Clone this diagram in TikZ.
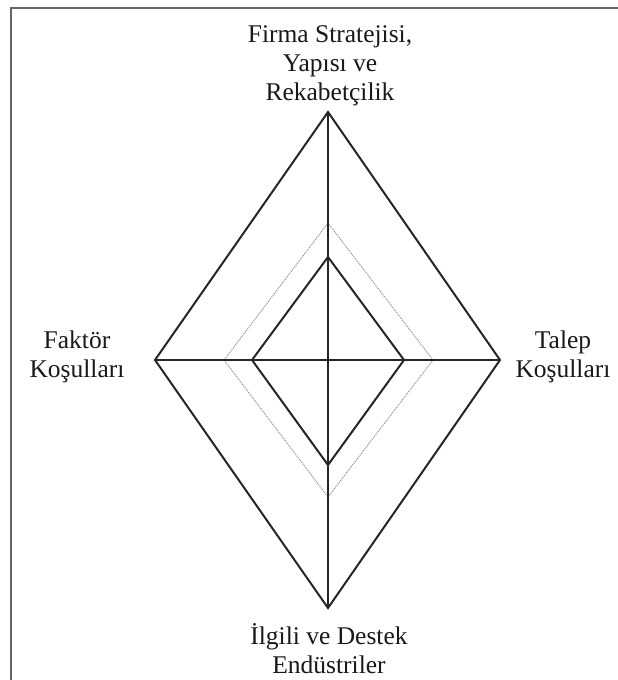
\documentclass[tikz,border=0pt]{standalone}
\usepackage{fontspec}
\setmainfont{Liberation Serif}
\begin{document}
\begin{tikzpicture}[x=1pt,y=-1pt,
  lbl/.style={align=center,font=\fontsize{25.5}{29}\selectfont,inner sep=0pt,text=black!90},
  mainline/.style={line width=2pt,draw=black!85},
  dotline/.style={line width=1pt,draw=black!45,densely dotted},
  framel/.style={line width=2.2pt,draw=black!60}]
\useasboundingbox (0,0) rectangle (618,680);
% frame
\coordinate (fr0) at (11,680);
\coordinate (fr1) at (11,8);
\coordinate (fr2) at (618,8);
\draw[framel] (fr0) -- (fr1) -- (fr2);
% center and vertices
\coordinate (c) at (328,360);
\coordinate (oT) at (328,112);
\coordinate (oB) at (328,608);
\coordinate (oL) at (155,360);
\coordinate (oR) at (500,360);
\coordinate (dT) at (328,223);
\coordinate (dB) at (328,497);
\coordinate (dL) at (224,360);
\coordinate (dR) at (433,360);
\coordinate (iT) at (328,257);
\coordinate (iB) at (328,465);
\coordinate (iL) at (252,360);
\coordinate (iR) at (404,360);
\draw[mainline] (oT) -- (oR) -- (oB) -- (oL) -- cycle;
\draw[dotline] (dT) -- (dR) -- (dB) -- (dL) -- cycle;
\draw[mainline] (iT) -- (iR) -- (iB) -- (iL) -- cycle;
\draw[mainline] (oT) -- (oB);
\draw[mainline] (oL) -- (oR);
% labels
\node[lbl] (top) at (330,66) {Firma Stratejisi,\\Yapısı ve\\Rekabetçilik};
\node[lbl] (left) at (77,357) {Faktör\\Koşulları};
\node[lbl] (right) at (563,357) {Talep\\Koşulları};
\node[lbl] (bottom) at (329,649) {İlgili ve Destek\\Endüstriler};
\end{tikzpicture}
\end{document}
